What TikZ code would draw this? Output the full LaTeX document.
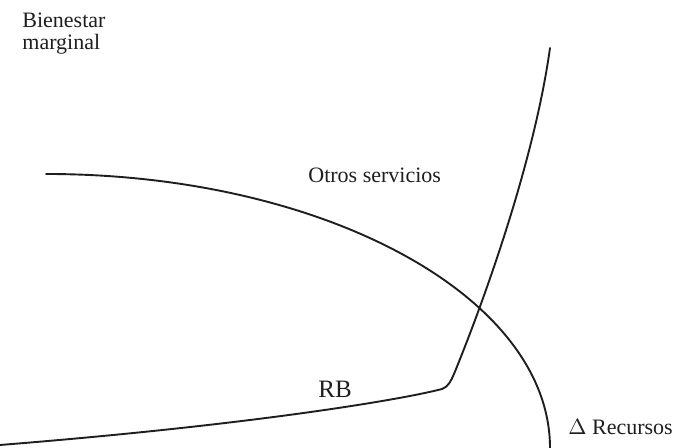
\documentclass[tikz,border=0pt]{standalone}
\usepackage{fontspec}
\setmainfont{Liberation Serif}
\definecolor{ink}{HTML}{1E1E1E}

\begin{document}
\begin{tikzpicture}[x=0.5pt,y=0.5pt,
  curve/.style={ink,line width=0.95pt,line cap=round},
  lbl/.style={ink,inner sep=0pt,font=\fontsize{11}{11}\selectfont}]
 \useasboundingbox (0,0) rectangle (676,448);
 % axis labels
 \node[lbl,anchor=north west,align=left] (ylab) at (22,435) {Bienestar\\marginal};
 \node[lbl,anchor=base west] (xlab) at (568,13) {$\Delta$ Recursos};
 % marginal benefit of other services
 \draw[curve] (46,274) arc[start angle=90,end angle=0,x radius=504,y radius=274];
 \node[lbl,anchor=base west] (otros) at (308,265) {Otros servicios};
 % RB curve
 \draw[curve] (0,3) .. controls (250,23) and (400,48) .. (442,59)
   .. controls (448,61) and (451,67) .. (454,74)
   .. controls (477,130) and (533,278) .. (550,400);
 \node[lbl,font=\fontsize{12.5}{12.5}\selectfont] (rb) at (335,59) {RB};
\end{tikzpicture}
\end{document}
